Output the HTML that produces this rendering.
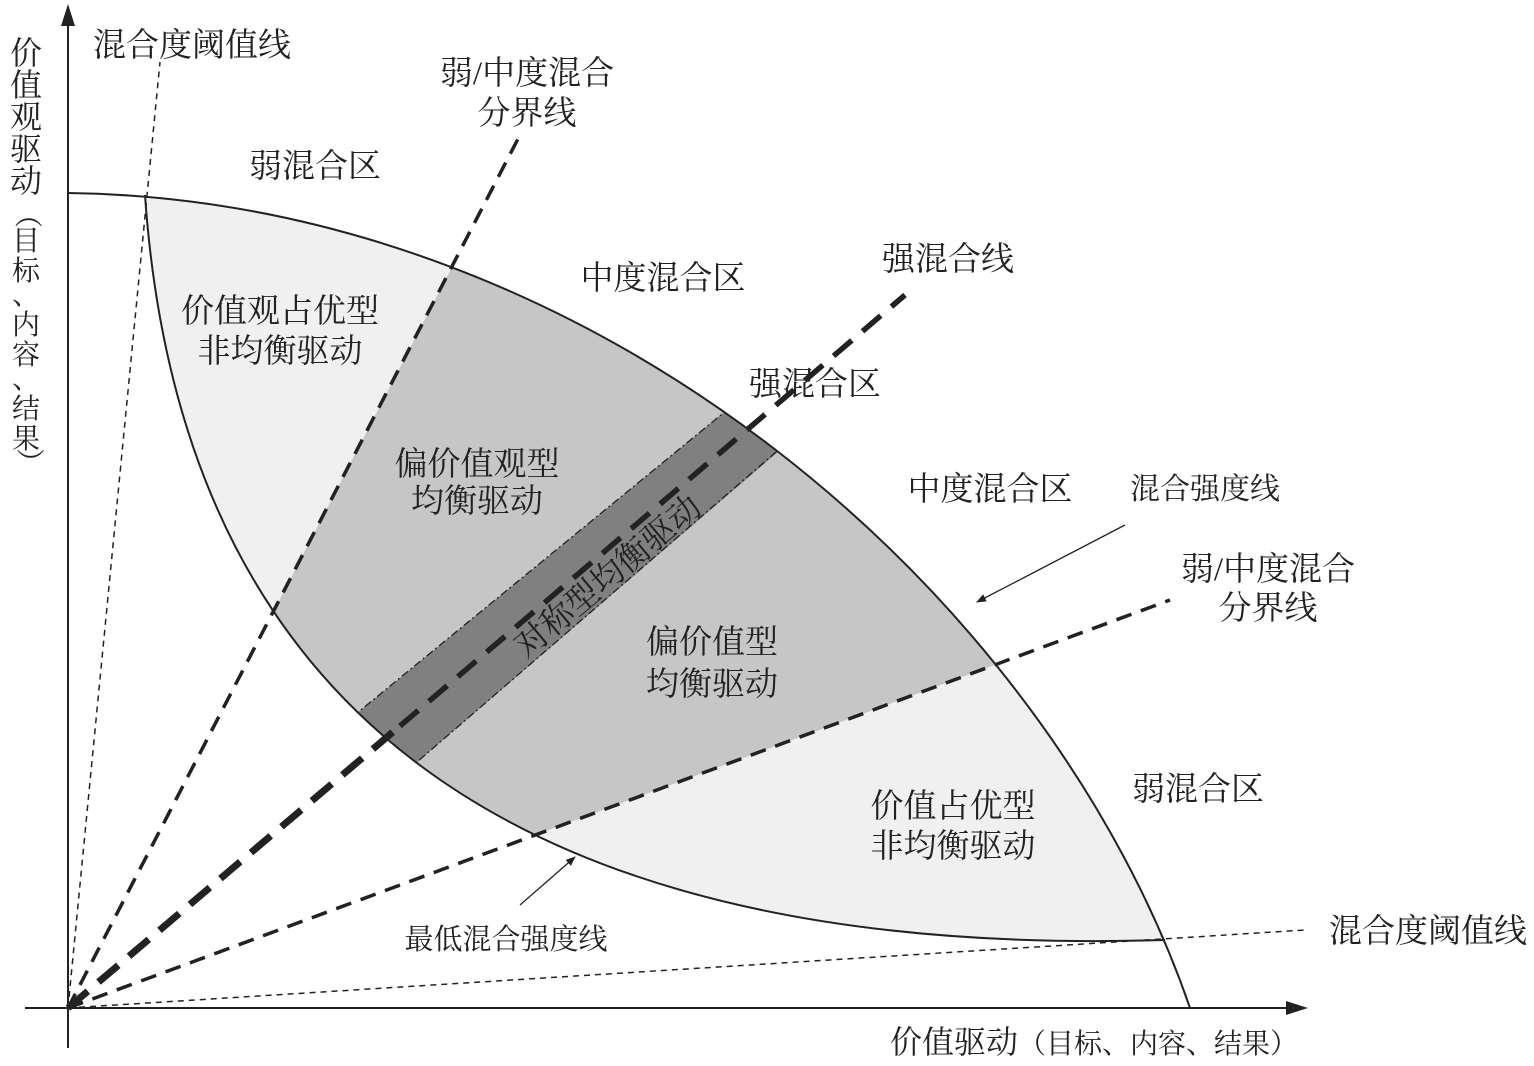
<!DOCTYPE html>
<html><head><meta charset="utf-8">
<style>
html,body{margin:0;padding:0;background:#fff;}
svg text{font-family:"Liberation Serif","Noto Serif CJK SC","Noto Sans CJK SC",serif;fill:#222;}
</style></head>
<body>
<svg width="1534" height="1061" viewBox="0 0 1534 1061" xmlns="http://www.w3.org/2000/svg">
<defs>
<clipPath id="outer"><path d="M68,193 C600,200 1050,600 1190,1008 L68,1008 Z"/></clipPath>
<clipPath id="lens"><path d="M145,195 C180,700 500,960 1165,940 L1300,940 L1300,0 L145,0 Z"/></clipPath>
<marker id="ah" markerWidth="10" markerHeight="10" refX="9" refY="5" orient="auto" markerUnits="userSpaceOnUse"><path d="M0,1 L10,5 L0,9 Z" fill="#222"/></marker>
</defs>
<!-- fills -->
<path d="M68,193 C600,200 1050,600 1190,1008 L68,1008 Z" fill="#f0f0f0"/>
<g clip-path="url(#outer)">
<polygon points="68,1008 580,20 1400,20 1400,515" fill="#c6c6c6"/>
<polygon points="300,760 800,350 850,390 350,820" fill="#808080"/>
</g>
<path d="M145,195 C180,700 500,960 1165,940 L1196,1008 L1196,1100 L0,1100 L0,195 Z" fill="#fff"/>
<path d="M0,0 L145,0 L145,195 L68,195 L0,195 Z" fill="#fff"/>
<!-- curves -->
<path d="M68,193 C600,200 1050,600 1190,1008" fill="none" stroke="#222" stroke-width="2"/>
<path d="M145,195 C180,700 500,960 1165,940" fill="none" stroke="#222" stroke-width="2"/>
<!-- strip edges -->
<g clip-path="url(#outer)"><g clip-path="url(#lens)">
<line x1="340" y1="727" x2="760" y2="383" stroke="#222" stroke-width="1.3" stroke-dasharray="8 3 2 3"/>
<line x1="395" y1="781" x2="805" y2="427" stroke="#222" stroke-width="1.3" stroke-dasharray="8 3 2 3"/>
</g></g>
<!-- lines from origin -->
<line x1="68" y1="1008" x2="160" y2="62" stroke="#222" stroke-width="1.5" stroke-dasharray="6 5"/>
<line x1="68" y1="1008" x2="1305" y2="930" stroke="#222" stroke-width="1.5" stroke-dasharray="6 5"/>
<line x1="68" y1="1008" x2="520" y2="135" stroke="#222" stroke-width="3.5" stroke-dasharray="16 10"/>
<line x1="68" y1="1008" x2="1170" y2="600" stroke="#222" stroke-width="3.5" stroke-dasharray="16 10"/>
<line x1="68" y1="1008" x2="400" y2="726" stroke="#222" stroke-width="7" stroke-dasharray="26 14"/>
<line x1="400" y1="726" x2="905" y2="295" stroke="#222" stroke-width="5.5" stroke-dasharray="24 14"/>
<!-- axes -->
<line x1="68" y1="1048" x2="68" y2="20" stroke="#222" stroke-width="2"/>
<polygon points="68,4 61,26 75,26" fill="#222"/>
<line x1="25" y1="1008" x2="1290" y2="1008" stroke="#222" stroke-width="2"/>
<polygon points="1308,1008 1286,1001 1286,1015" fill="#222"/>
<!-- arrows -->
<line x1="1125" y1="525" x2="977" y2="602" stroke="#222" stroke-width="1.3" marker-end="url(#ah)"/>
<line x1="520" y1="905" x2="575" y2="857" stroke="#222" stroke-width="1.3" marker-end="url(#ah)"/>
<!-- labels -->
<g font-size="33">
<text x="93" y="56">混合度阈值线</text>
<text x="527" y="84" text-anchor="middle">弱/中度混合</text>
<text x="527" y="124" text-anchor="middle">分界线</text>
<text x="315" y="177" text-anchor="middle">弱混合区</text>
<text x="663" y="289" text-anchor="middle">中度混合区</text>
<text x="948" y="270" text-anchor="middle">强混合线</text>
<text x="280" y="322" text-anchor="middle">价值观占优型</text>
<text x="280" y="362" text-anchor="middle">非均衡驱动</text>
<text x="815" y="395" text-anchor="middle">强混合区</text>
<text x="477" y="475" text-anchor="middle">偏价值观型</text>
<text x="477" y="512" text-anchor="middle">均衡驱动</text>
<text x="990" y="500" text-anchor="middle">中度混合区</text>
<text x="1268" y="580" text-anchor="middle">弱/中度混合</text>
<text x="1268" y="619" text-anchor="middle">分界线</text>
<text x="712" y="653" text-anchor="middle">偏价值型</text>
<text x="712" y="695" text-anchor="middle">均衡驱动</text>
<text x="1198" y="800" text-anchor="middle">弱混合区</text>
<text x="953" y="817" text-anchor="middle">价值占优型</text>
<text x="953" y="857" text-anchor="middle">非均衡驱动</text>
<text x="1428" y="942" text-anchor="middle">混合度阈值线</text>
<text transform="translate(615,585) rotate(-40)" text-anchor="middle">对称型均衡驱动</text>
</g>
<text x="1205" y="499" font-size="30" text-anchor="middle">混合强度线</text>
<text x="506" y="949" font-size="29" text-anchor="middle">最低混合强度线</text>
<text x="890" y="1053" font-size="32">价值驱动<tspan font-size="28">（目标、内容、结果）</tspan></text>
<g font-size="32" text-anchor="middle">
<text x="26" y="64">价</text><text x="26" y="96">值</text><text x="26" y="128">观</text><text x="26" y="160">驱</text><text x="26" y="192">动</text>
</g>
<g font-size="28" text-anchor="middle">
<text x="26" y="222" transform="rotate(90 26 214)">（</text>
<text x="26" y="250">目</text><text x="26" y="280">标</text><text x="26" y="304">、</text><text x="26" y="334">内</text><text x="26" y="364">容</text><text x="26" y="388">、</text><text x="26" y="418">结</text><text x="26" y="448">果</text>
<text x="26" y="468" transform="rotate(90 26 462)">）</text>
</g>
</svg>
</body></html>
